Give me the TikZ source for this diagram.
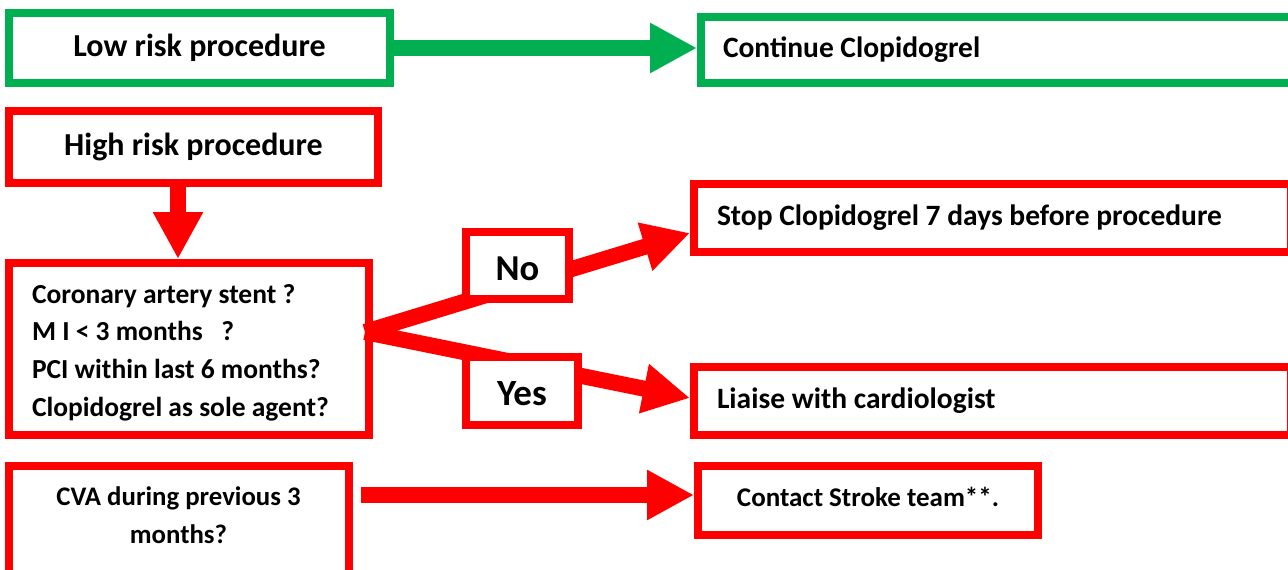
\documentclass[tikz,border=0pt]{standalone}
\usepackage{fontspec}
\setmainfont{Carlito}
\usetikzlibrary{arrows.meta,calc}
\definecolor{gr}{HTML}{00B050}
\definecolor{rd}{HTML}{FF0000}
\tikzset{
  box/.style={draw, line width=8pt, fill=white, inner sep=0pt, text=black,
    font=\bfseries\fontsize{32}{38}\selectfont, text height=24pt, text depth=8pt},
  gbox/.style={box, draw=gr},
  rbox/.style={box, draw=rd},
  leftbox/.style={align=flush left, inner xsep=23pt,
    font=\bfseries\fontsize{29.5}{35}\selectfont, text height=22pt, text depth=7.5pt},
  answer/.style={rbox, font=\bfseries\fontsize{36.5}{40}\selectfont, text height=29pt, text depth=0pt},
  bigarrow/.style={line width=16pt, -{Triangle[length=47pt,width=47pt]}},
}
\begin{document}
\begin{tikzpicture}[x=1pt,y=-1pt]
\useasboundingbox (0,0) rectangle (1288,570);
\clip (0,0) rectangle (1288,570);

% boxes
\node[gbox, minimum width=381pt, minimum height=70pt] (low) at (199.5,48) {Low risk procedure};
\node[gbox, leftbox, inner xsep=22pt, minimum width=591pt, minimum height=66pt, text width=547pt] (cont) at (996.5,50) {Continue Clopidogrel};
\node[rbox, minimum width=369pt, minimum height=72pt] (high) at (193.5,147) {High risk procedure};
\node[rbox, leftbox, minimum width=360pt, minimum height=172pt, text width=314pt,
  font=\bfseries\fontsize{27.5}{37.7}\selectfont, text height=, text depth=] (q) at (189,349)
  {\rule{0pt}{26pt}Coronary artery stent ?\\M I < 3 months\ \ \ ?\\PCI within last 6 months?\\Clopidogrel as sole agent?};
\node[rbox, leftbox, minimum width=597pt, minimum height=68pt, text width=551pt] (stop) at (992.5,218) {Stop Clopidogrel 7 days before procedure};
\node[rbox, leftbox, minimum width=597pt, minimum height=68pt, text width=551pt] (liaise) at (992.5,401) {Liaise with cardiologist};
\node[rbox, minimum width=340pt, minimum height=114pt] (cva) at (179,523) {};
\node[font=\bfseries\fontsize{26.8}{38}\selectfont, align=center, inner sep=0pt] (cvatext) at (178.5,515.5) {CVA during previous 3\\months?};
\node[rbox, minimum width=340pt, minimum height=69pt, font=\bfseries\fontsize{27}{33}\selectfont,
  text height=19pt, text depth=8pt] (stroke) at (868,500.5) {Contact Stroke team**.};

% connectors
\draw[bigarrow, gr] (low.east) -- (low.east -| cont.west);
\draw[bigarrow, rd] ([xshift=-15.5pt]high.south) -- ([xshift=-15.5pt]high.south |- q.north);
\coordinate (qc) at (365,332);
\draw[bigarrow, rd] (qc) -- ([yshift=-15pt]stop.west);
\draw[bigarrow, rd] (qc) -- ([yshift=3pt]liaise.west);
\coordinate (cvaout) at (361,495);
\draw[bigarrow, rd] (cvaout) -- (cvaout -| stroke.west);

% branch labels over the connectors
\node[answer, minimum width=103pt, minimum height=67pt] (no) at (517.5,265.5) {No};
\node[answer, minimum width=112pt, minimum height=68pt, font=\bfseries\fontsize{37}{40}\selectfont] (yes) at (522,391) {Yes};
\end{tikzpicture}
\end{document}
